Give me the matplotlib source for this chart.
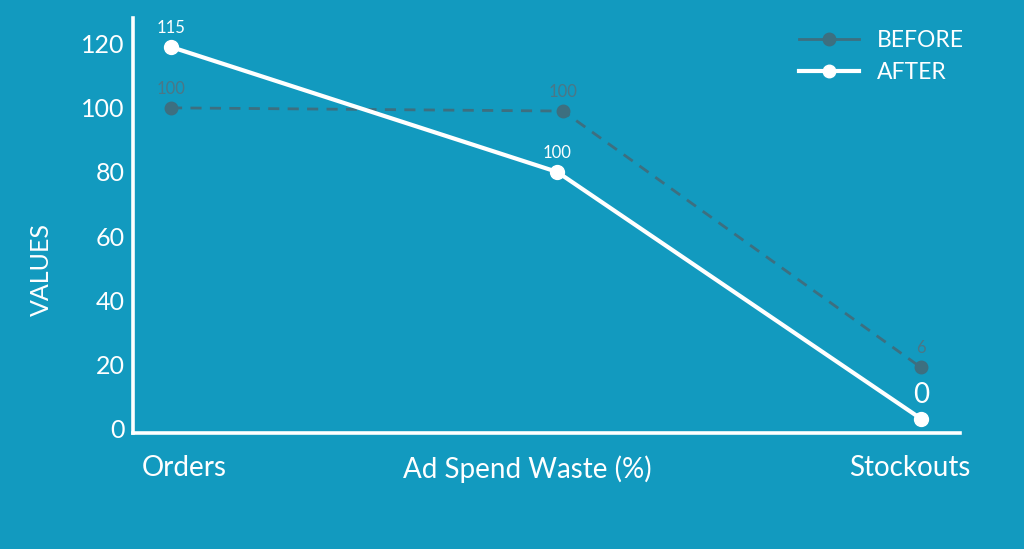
import matplotlib.pyplot as plt

categories = ['Orders', 'Ad Spend Waste (%)', 'Stockouts']
# where the category names sit along the x axis
label_pos = [0.035, 0.95, 1.97]

before_x = [0, 1.045, 2]
before_vals = [100, 99, 19]
before_labels = ['100', '100', '6']

after_x = [0, 1.03, 2]
after_vals = [119, 80, 3]
after_labels = ['115', '100', '0']

bg = '#129ABF'
dark = '#3D6F80'
plt.rcParams['font.family'] = ['Lato', 'DejaVu Sans']

fig = plt.figure(figsize=(10.24, 5.49), dpi=100, facecolor=bg)
ax = fig.add_axes([0.130, 0.211, 0.8075, 0.756])
ax.set_facecolor(bg)

ax.plot(before_x, before_vals, color=dark, lw=2, ls=(0, (4, 3)), marker='o',
        ms=9, mec=dark, mfc=dark, label='BEFORE')
ax.plot(after_x, after_vals, color='white', lw=3, marker='o',
        ms=10, mec='white', mfc='white', label='AFTER')

for x, v, t in zip(before_x, before_vals, before_labels):
    ax.annotate(t, (x, v), xytext=(0, 8), textcoords='offset points',
                ha='center', va='bottom', color='#4A7787', fontsize=12)
for x, v, t in zip(after_x, after_vals, after_labels):
    fs = 20 if t == '0' else 12
    ax.annotate(t, (x, v), xytext=(0, 8), textcoords='offset points',
                ha='center', va='bottom', color='white', fontsize=fs)

ax.set_xlim(-0.101, 2.104)
ax.set_ylim(-1.5, 128)
ax.set_yticks([0, 20, 40, 60, 80, 100, 120])
ax.set_xticks(label_pos)
ax.set_xticklabels(categories)
ax.tick_params(length=0, colors='white', labelsize=18)
ax.tick_params(axis='x', pad=16, labelsize=20)
ax.tick_params(axis='y', pad=6)

for s in ['top', 'right']:
    ax.spines[s].set_visible(False)
for s in ['left', 'bottom']:
    ax.spines[s].set_color('white')
    ax.spines[s].set_linewidth(2.6)

fig.text(0.040, 0.51, 'VALUES', rotation=90, color='white', fontsize=18,
         ha='center', va='center')

leg = ax.legend(loc='upper right', bbox_to_anchor=(1.03, 1.02), frameon=False,
                labelcolor='white', fontsize=16.5, handlelength=2.6,
                handletextpad=0.8, labelspacing=0.45)
for h in leg.legend_handles:
    h.set_linestyle('-')
    h.set_markersize(9)

fig.savefig('out.png', dpi=100, facecolor=bg)
